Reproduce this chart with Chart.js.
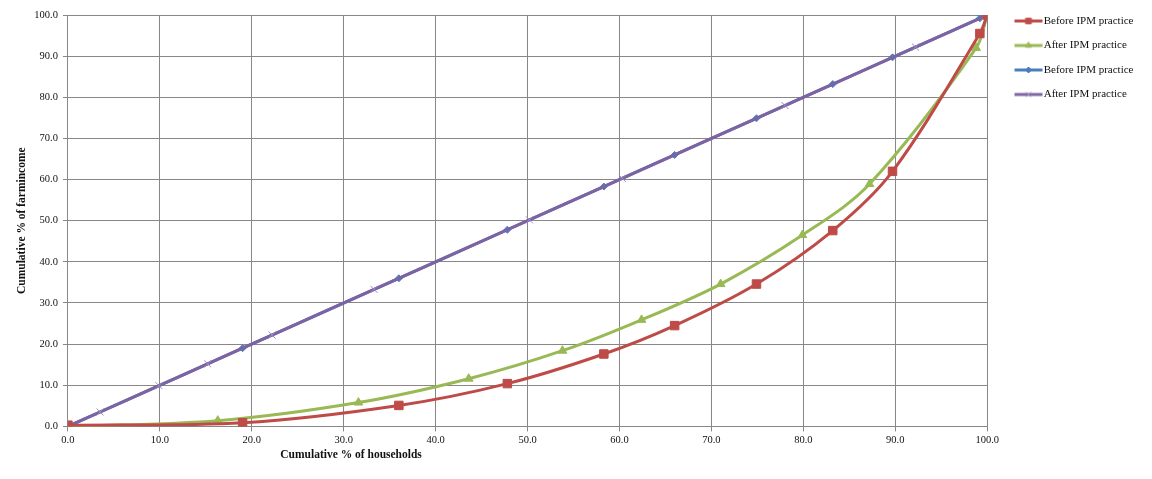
<!DOCTYPE html>
<html>
<head>
<meta charset="utf-8">
<title>Cumulative % of farm income vs households, before and after IPM practice</title>
<script src="https://cdn.jsdelivr.net/npm/chart.js@4.4.1/dist/chart.umd.min.js"></script>
<style>
  html, body { margin: 0; padding: 0; background: #fff; }
  #wrap { width: 1152px; height: 479px; }
</style>
</head>
<body>
<div id="wrap"><canvas id="chart" width="1152" height="479"></canvas></div>
<script>
// values: cumulative % of households (x), cumulative % of farm income (y)
const householdsBefore = [0, 19.0, 36.0, 47.8, 58.3, 66.0, 74.9, 83.2, 89.7, 99.2, 100];
const incomeBefore     = [0.3, 0.9, 5.1, 10.4, 17.6, 24.5, 34.6, 47.6, 62.0, 95.5, 100];
const householdsAfter  = [0, 16.3, 31.6, 43.6, 53.8, 62.4, 71.0, 79.9, 87.2, 98.8, 100];
const incomeAfter      = [0, 1.4, 5.8, 11.6, 18.4, 25.9, 34.6, 46.5, 58.9, 92.0, 100];
// line of equality series (y = x)
const equalityBefore = [0, 19.0, 36.0, 47.8, 58.3, 66.0, 74.9, 83.2, 89.7, 99.2, 100];
const equalityAfter  = [0, 3.5, 9.9, 15.2, 22.2, 33.3, 50.2, 60.3, 78.0, 92.2, 100];

const seriesLabels = ['Before IPM practice', 'After IPM practice', 'Before IPM practice', 'After IPM practice'];
const tickLabels = ['0.0', '10.0', '20.0', '30.0', '40.0', '50.0', '60.0', '70.0', '80.0', '90.0', '100.0'];

const RED = '#BE4B48', GREEN = '#98B954', BLUE = '#4A7EBB', PURPLE = '#7E62A1';
const FONT = '"Liberation Serif", "Times New Roman", serif';
const GRID = '#878787';

function toPoints(xs, ys) {
  return xs.map((x, i) => ({ x: x, y: ys[i] }));
}

// little line+marker picture for each legend entry
function legendIcon(color, style, radius, markColor) {
  const c = document.createElement('canvas');
  c.width = 48; c.height = 12;
  const g = c.getContext('2d');
  g.strokeStyle = color;
  g.lineWidth = 3;
  g.beginPath(); g.moveTo(19, 6); g.lineTo(47, 6); g.stroke();
  g.fillStyle = markColor || color;
  g.strokeStyle = markColor || color;
  g.lineWidth = 1;
  Chart.helpers.drawPoint(g, { pointStyle: style, radius: radius, rotation: 0, borderWidth: 1 }, 33, 6);
  return c;
}

const legendIcons = [
  legendIcon(RED, 'rect', 4),
  legendIcon(GREEN, 'triangle', 3.5),
  legendIcon(BLUE, 'rectRot', 3),
  legendIcon(PURPLE, 'crossRot', 3.5, '#9C8AC0')
];

// x axis title sits left of centre in the original
const xTitlePlugin = {
  id: 'xTitle',
  afterDraw(chart) {
    const { ctx, chartArea } = chart;
    ctx.save();
    ctx.font = 'bold 11.5px ' + FONT;
    ctx.fillStyle = '#111';
    ctx.textAlign = 'center';
    ctx.textBaseline = 'middle';
    ctx.fillText('Cumulative % of households', chartArea.left + chartArea.width * 0.308, chartArea.bottom + 29);
    ctx.restore();
  }
};

const ctx = document.getElementById('chart').getContext('2d');
new Chart(ctx, {
  type: 'scatter',
  data: {
    datasets: [{
      label: seriesLabels[0],
      data: toPoints(householdsBefore, incomeBefore),
      borderColor: RED,
      backgroundColor: RED,
      pointStyle: 'rect',
      pointRadius: 6,
      order: 0
    }, {
      label: seriesLabels[1],
      data: toPoints(householdsAfter, incomeAfter),
      borderColor: GREEN,
      backgroundColor: GREEN,
      pointStyle: 'triangle',
      pointRadius: 5,
      order: 1
    }, {
      label: seriesLabels[2],
      data: toPoints(equalityBefore, equalityBefore),
      borderColor: BLUE,
      backgroundColor: BLUE,
      pointStyle: 'rectRot',
      pointRadius: 3.5,
      order: 3
    }, {
      label: seriesLabels[3],
      data: toPoints(equalityAfter, equalityAfter),
      borderColor: PURPLE,
      backgroundColor: PURPLE,
      pointStyle: 'crossRot',
      pointRadius: 5,
      pointBorderColor: '#9C8AC0',
      pointBorderWidth: 1,
      order: 2
    }]
  },
  options: {
    responsive: false,
    animation: false,
    layout: { padding: { left: 11, top: 2, right: 8.5, bottom: 29 } },
    elements: {
      line: { borderWidth: 3, tension: 0.33 },
      point: { borderWidth: 1, hoverRadius: 6 }
    },
    datasets: { scatter: { showLine: true } },
    plugins: {
      tooltip: { enabled: false },
      legend: {
        position: 'right',
        align: 'start',
        labels: {
          usePointStyle: true,
          pointStyleWidth: 37.5,
          padding: 13.5,
          color: '#111',
          font: { family: FONT, size: 11 },
          sort: (a, b) => a.datasetIndex - b.datasetIndex,
          generateLabels(chart) {
            const items = Chart.defaults.plugins.legend.labels.generateLabels(chart);
            items.forEach((it) => { it.pointStyle = legendIcons[it.datasetIndex]; });
            return items;
          }
        }
      }
    },
    scales: {
      x: {
        type: 'linear',
        min: 0,
        max: 100,
        ticks: {
          stepSize: 10,
          autoSkip: false,
          maxRotation: 0,
          padding: 3,
          color: '#111',
          font: { family: FONT, size: 10.5 },
          callback: (v, i) => tickLabels[i]
        },
        grid: { color: GRID, tickLength: 5 },
        border: { color: GRID }
      },
      y: {
        min: 0,
        max: 100,
        afterFit(scale) { scale.paddingTop = 15; },
        ticks: {
          stepSize: 10,
          padding: 5,
          color: '#111',
          font: { family: FONT, size: 10.5 },
          callback: (v, i) => tickLabels[i]
        },
        grid: { color: GRID, tickLength: 5 },
        border: { color: GRID },
        title: {
          display: true,
          text: 'Cumulative % of farmincome',
          color: '#111',
          padding: { top: 4, bottom: 0.5 },
          font: { family: FONT, size: 11.5, weight: 'bold' }
        }
      }
    }
  },
  plugins: [xTitlePlugin]
});
</script>
</body>
</html>
